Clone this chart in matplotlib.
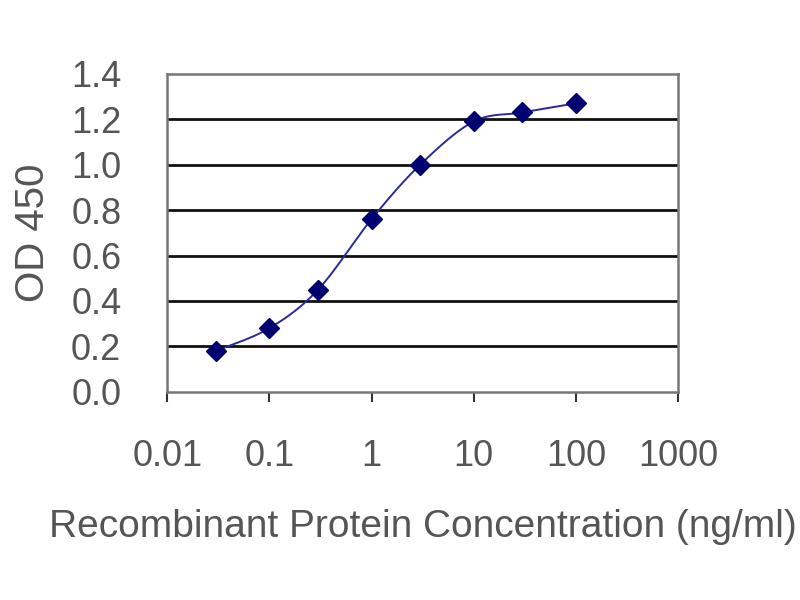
import numpy as np
import matplotlib
matplotlib.use('Agg')
import matplotlib.pyplot as plt

# ── Datos ──────────────────────────────────────────────────────────────────
conc = [0.03, 0.1, 0.3, 1, 3, 10, 30, 100]
od450 = [0.18, 0.28, 0.45, 0.76, 1.00, 1.19, 1.23, 1.27]
xticks = [0.01, 0.1, 1, 10, 100, 1000]
xtick_labels = ['0.01', '0.1', '1', '10', '100', '1000']
yticks = [0.0, 0.2, 0.4, 0.6, 0.8, 1.0, 1.2, 1.4]

C_TEXT = '#555555'
C_LINE = '#2a2a9a'
C_DOT = '#000070'

plt.rcParams['font.family'] = ['Liberation Sans', 'DejaVu Sans']


def smooth(xs, ys, n=30):
    """Curva suavizada tipo Excel (Catmull-Rom) en espacio log-x."""
    lx = np.log10(xs)
    ys = np.asarray(ys, float)
    px = np.concatenate([[lx[0]], lx, [lx[-1]]])
    py = np.concatenate([[ys[0]], ys, [ys[-1]]])
    out_x, out_y = [], []
    t = np.linspace(0, 1, n)
    for i in range(1, len(px) - 2):
        for p, out in ((px, out_x), (py, out_y)):
            p0, p1, p2, p3 = p[i-1], p[i], p[i+1], p[i+2]
            seg = 0.5 * ((2*p1) + (-p0 + p2)*t + (2*p0 - 5*p1 + 4*p2 - p3)*t**2
                         + (-p0 + 3*p1 - 3*p2 + p3)*t**3)
            out.extend(seg)
    return 10 ** np.array(out_x), np.array(out_y)


fig = plt.figure(figsize=(8, 6), dpi=100)
ax = fig.add_axes([0.209, 0.347, 0.6385, 0.53])

for v in yticks[1:-1]:
    ax.axhline(v, color='#111111', linewidth=2.0, zorder=1)

sx, sy = smooth(conc, od450)
ax.plot(sx, sy, color=C_LINE, linewidth=1.4, zorder=2)
ax.plot(conc, od450, linestyle='none', marker='D', markersize=10,
        color=C_DOT, zorder=3)

ax.set_xscale('log')
ax.set_xlim(0.01, 1000)
ax.set_ylim(0, 1.4)
ax.set_xticks(xticks)
ax.set_xticklabels(xtick_labels)
ax.xaxis.set_minor_locator(matplotlib.ticker.NullLocator())
ax.set_yticks(yticks)
ax.set_yticklabels([f'{v:.1f}' for v in yticks])

ax.tick_params(axis='x', direction='out', length=7, width=1.5, color='#333333',
               labelsize=26, labelcolor=C_TEXT, pad=27)
ax.tick_params(axis='y', length=0, labelsize=26, labelcolor=C_TEXT, pad=33)

for s in ax.spines.values():
    s.set_color('#777777')
    s.set_linewidth(1.8)

ax.set_xlabel('Recombinant Protein Concentration (ng/ml)', fontsize=28,
              color=C_TEXT, labelpad=25)
ax.set_ylabel('OD 450', fontsize=29, color=C_TEXT, labelpad=14)

plt.savefig('out.png', dpi=100, facecolor='white')
